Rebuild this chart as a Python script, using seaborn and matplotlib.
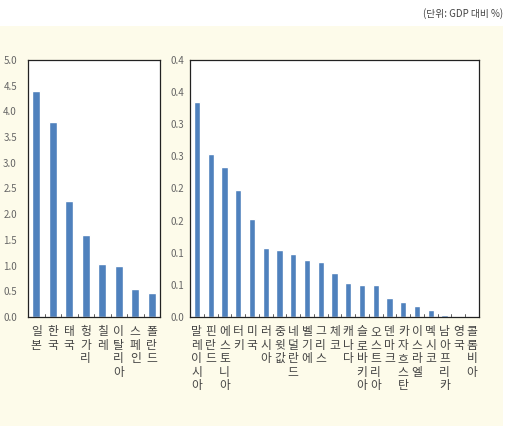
import matplotlib
matplotlib.use("Agg")
import matplotlib.pyplot as plt
import matplotlib.patches as mpatches
import pandas as pd
import seaborn as sns

# Left panel (large values)
left_countries = ["일본", "한국", "태국", "헝가리", "칠레", "이탈리아", "스페인", "폴란드"]
left_values = [4.40, 3.80, 2.26, 1.60, 1.03, 0.99, 0.55, 0.47]
left_ticks = [0.0, 0.5, 1.0, 1.5, 2.0, 2.5, 3.0, 3.5, 4.0, 4.5, 5.0]
left_ticklabels = ["0.0", "0.5", "1.0", "1.5", "2.0", "2.5", "3.0", "3.5", "4.0", "4.5", "5.0"]

# Right panel (small values)
right_countries = ["말레이시아", "핀란드", "에스토니아", "터키", "미국", "러시아", "중윗값",
                   "네덜란드", "벨기에", "그리스", "체코", "캐나다", "슬로바키아", "오스트리아",
                   "덴마크", "카자흐스탄", "이스라엘", "멕시코", "남아프리카", "영국", "콜롬비아"]
right_values = [0.335, 0.254, 0.234, 0.197, 0.152, 0.107, 0.104, 0.098, 0.0885, 0.0855,
                0.068, 0.053, 0.050, 0.050, 0.030, 0.023, 0.017, 0.011, 0.003, 0.0015, 0.0]
right_ticks = [0.0, 0.05, 0.10, 0.15, 0.20, 0.25, 0.30, 0.35, 0.40]
right_ticklabels = ["0.0", "0.1", "0.1", "0.2", "0.2", "0.3", "0.3", "0.4", "0.4"]

unit_text = "(단위: GDP 대비 %)"

BAR = "#4f81bd"
CREAM = "#fdfbea"
FONTS = ["Noto Sans CJK KR", "DejaVu Sans"]

sns.set_theme(style="white")
plt.rcParams["font.family"] = FONTS

fig = plt.figure(figsize=(5.16, 4.26), dpi=100)
fig.patches.append(mpatches.Rectangle((0, 0.0), 503 / 516, 400 / 426, transform=fig.transFigure,
                                      facecolor=CREAM, edgecolor="none", zorder=-10))

ax1 = fig.add_axes([28 / 516, 109 / 426, 132 / 516, 257 / 426])
ax2 = fig.add_axes([190 / 516, 109 / 426, 289 / 516, 257 / 426])


def draw(ax, names, values, ticks, ticklabels, ymax, ypad, bar_w):
    df = pd.DataFrame({"name": names, "value": values})
    sns.barplot(data=df, x="name", y="value", color=BAR, saturation=1, width=bar_w, ax=ax)
    n = len(names)
    ax.set_xlim(-0.5, n - 0.5)
    ax.set_ylim(0, ymax)
    ax.set_xlabel("")
    ax.set_ylabel("")
    ax.set_facecolor("white")
    ax.set_yticks(ticks)
    ax.set_yticklabels(ticklabels, fontsize=7, color="#666666")
    ax.set_xticks(range(n))
    ax.set_xticklabels(["\n".join(s) for s in names], fontsize=8.5, color="#444444",
                       linespacing=1.05, va="top")
    ax.tick_params(axis="x", length=0, pad=6)
    ax.tick_params(axis="y", length=2, direction="in", pad=ypad, width=0.6, color="#444444")
    # small boundary ticks along the bottom
    for i in range(1, n):
        ax.plot([i - 0.5, i - 0.5], [0, ymax * 0.012], color="#444444", lw=0.6, zorder=5)
    for sp in ax.spines.values():
        sp.set_visible(True)
        sp.set_color("#222222")
        sp.set_linewidth(0.9)


draw(ax1, left_countries, left_values, left_ticks, left_ticklabels, 5.0, 8, 0.46)
draw(ax2, right_countries, right_values, right_ticks, right_ticklabels, 0.4, 4, 0.45)

fig.text(503 / 516, 1 - 14 / 426, unit_text, ha="right", va="center", fontsize=7,
         color="#444444")

fig.savefig("out.png", dpi=100, facecolor="white")
